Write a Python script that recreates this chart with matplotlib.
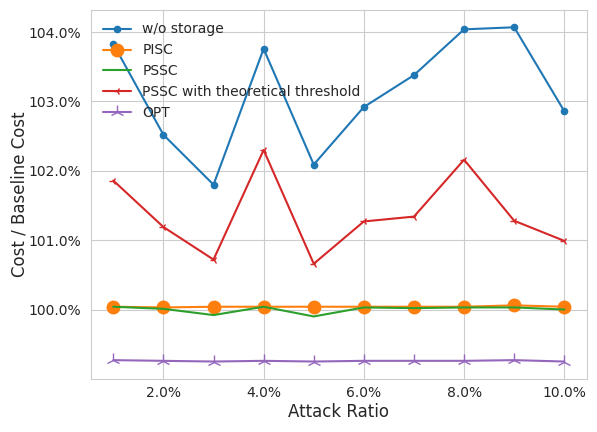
import matplotlib
matplotlib.use("Agg")
import matplotlib.pyplot as plt
import seaborn as sns
from matplotlib.ticker import FuncFormatter

attack_ratio = [1, 2, 3, 4, 5, 6, 7, 8, 9, 10]
wo_storage = [103.83, 102.52, 101.80, 103.76, 102.09, 102.92, 103.38, 104.04, 104.07, 102.86]
pisc = [100.04, 100.03, 100.04, 100.04, 100.04, 100.04, 100.04, 100.04, 100.06, 100.04]
pssc = [100.04, 100.01, 99.92, 100.04, 99.90, 100.03, 100.02, 100.03, 100.03, 100.00]
pssc_theory = [101.86, 101.19, 100.72, 102.30, 100.66, 101.27, 101.34, 102.16, 101.28, 100.99]
opt = [99.27, 99.26, 99.25, 99.26, 99.25, 99.26, 99.26, 99.26, 99.27, 99.25]

sns.set_style("whitegrid")
plt.rcParams['font.family'] = ['DejaVu Sans']

fig, ax = plt.subplots(figsize=(5.97, 4.32), dpi=100)
ax.plot(attack_ratio, wo_storage, marker='o', markersize=4.5, color='#1f77b4', label='w/o storage')
ax.plot(attack_ratio, pisc, marker='o', markersize=9, color='#ff7f0e', label='PISC')
ax.plot(attack_ratio, pssc, color='#2ca02c', label='PSSC')
ax.plot(attack_ratio, pssc_theory, marker='3', markersize=6, color='#d62728', label='PSSC with theoretical threshold')
ax.plot(attack_ratio, opt, marker='2', markersize=10, color='#9467bd', label='OPT')

ax.set_xlabel('Attack Ratio', fontsize=12, labelpad=2.5)
ax.set_ylabel('Cost / Baseline Cost', fontsize=12, labelpad=0)
ax.set_xticks([2, 4, 6, 8, 10])
ax.xaxis.set_major_formatter(FuncFormatter(lambda v, p: f"{v:.1f}%"))
ax.set_yticks([100, 101, 102, 103, 104])
ax.yaxis.set_major_formatter(FuncFormatter(lambda v, p: f"{v:.1f}%"))
ax.tick_params(axis='x', pad=1.5)
ax.set_ylim(99.0, 104.32)
ax.legend(loc='upper left', frameon=False, fontsize=10)
fig.subplots_adjust(left=0.152, right=0.983, top=0.977, bottom=0.123)
fig.savefig('out.png', dpi=100)
